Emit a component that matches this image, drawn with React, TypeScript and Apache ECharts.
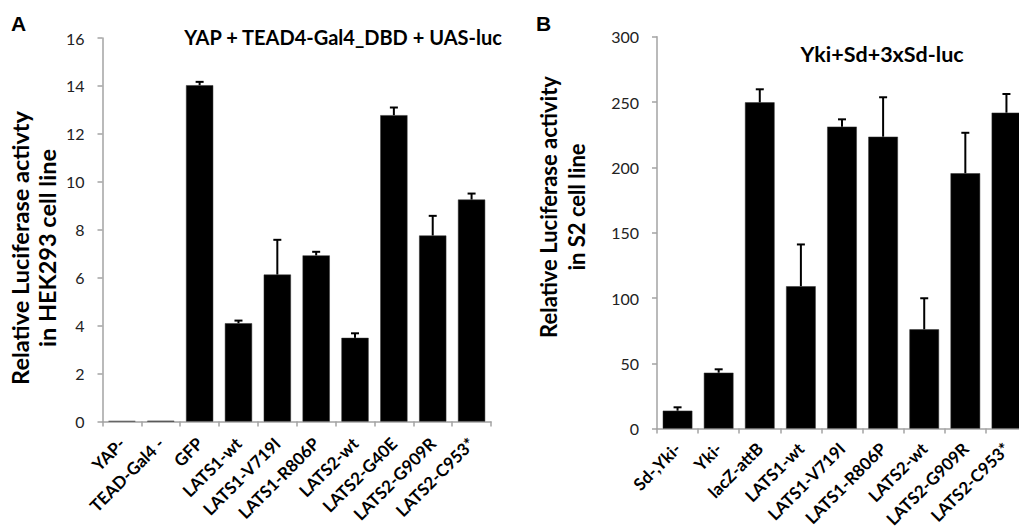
import React, { useEffect, useRef } from "react";
import * as echarts from "echarts";

const catsA = ["YAP-", "TEAD-Gal4 -", "GFP", "LATS1-wt", "LATS1-V719I", "LATS1-R806P", "LATS2-wt", "LATS2-G40E", "LATS2-G909R", "LATS2-C953*"];
const valsA = [0.02, 0.03, 14.03, 4.1, 6.13, 6.93, 3.49, 12.78, 7.76, 9.26];
const errA = [0, 0, 0.14, 0.11, 1.45, 0.15, 0.19, 0.32, 0.82, 0.25];
const ticksA = { min: 0, max: 16, interval: 2 };

const catsB = ["Sd-,Yki-", "Yki-", "lacZ-attB", "LATS1-wt", "LATS1-V719I", "LATS1-R806P", "LATS2-wt", "LATS2-G909R", "LATS2-C953*"];
const valsB = [13.7, 42.8, 249.8, 109, 231.2, 223.5, 76, 195.5, 241.9];
const errB = [2.6, 2.6, 10, 32, 5.6, 30.2, 23.8, 31, 14.3];
const ticksB = { min: 0, max: 300, interval: 50 };

const titleA = "YAP + TEAD4-Gal4_DBD + UAS-luc";
const titleB = "Yki+Sd+3xSd-luc";
const yNameA = "Relative Luciferase activty\nin HEK293 cell line";
const yNameB = "Relative Luciferase activity\nin S2 cell line";

const FONT = "Lato";
const AXIS_GRAY = "#a3a3a3";

function errData(vals: number[], errs: number[]) {
  return vals
    .map((v, i) => [i, v, v + errs[i], errs[i]])
    .filter((d) => d[3] > 0);
}

function errorSeries(idx: number, data: number[][]) {
  return {
    type: "custom",
    xAxisIndex: idx,
    yAxisIndex: idx,
    data,
    encode: { x: 0, y: [1, 2] },
    z: 3,
    renderItem: (params: any, api: any) => {
      const i = api.value(0);
      const base = api.coord([i, api.value(1)]);
      const top = api.coord([i, api.value(2)]);
      const half = 4;
      const st = { stroke: "#000", lineWidth: 2 };
      return {
        type: "group",
        children: [
          { type: "line", shape: { x1: base[0], y1: base[1], x2: top[0], y2: top[1] }, style: st },
          { type: "line", shape: { x1: top[0] - half, y1: top[1], x2: top[0] + half, y2: top[1] }, style: st },
        ],
      };
    },
  };
}

function xAxis(idx: number, cats: string[], fontSize: number, margin: number) {
  return {
    type: "category",
    gridIndex: idx,
    data: cats,
    axisLine: { lineStyle: { color: AXIS_GRAY, width: 1.5 } },
    axisTick: { show: true, length: 5, lineStyle: { color: AXIS_GRAY, width: 1.5 } },
    axisLabel: {
      interval: 0,
      rotate: 45,
      margin,
      color: "#000",
      fontFamily: FONT,
      fontWeight: "bold",
      fontSize,
    },
  };
}

function yAxis(idx: number, t: { min: number; max: number; interval: number }) {
  return {
    type: "value",
    gridIndex: idx,
    min: t.min,
    max: t.max,
    interval: t.interval,
    splitLine: { show: false },
    axisLine: { show: true, lineStyle: { color: AXIS_GRAY, width: 1.5 } },
    axisTick: { show: true, length: 5, lineStyle: { color: AXIS_GRAY, width: 1.5 } },
    axisLabel: { margin: 18, color: "#222", fontFamily: FONT, fontSize: 16 },
  };
}

export default function App() {
  const ref = useRef<HTMLDivElement>(null);
  useEffect(() => {
    if (!ref.current) return;
    const chart = echarts.init(ref.current, null, { renderer: "svg" });
    chart.setOption({
      animation: false,
      backgroundColor: "#fff",
      grid: [
        { left: 102.5, top: 38, width: 388.5, height: 383.5, outerBoundsMode: "none", containLabel: false },
        { left: 657, top: 36.8, width: 370, height: 391.8, outerBoundsMode: "none", containLabel: false },
      ],
      xAxis: [xAxis(0, catsA, 17, 19), xAxis(1, catsB, 17, 17)],
      yAxis: [yAxis(0, ticksA), yAxis(1, ticksB)],
      series: [
        {
          type: "bar",
          xAxisIndex: 0,
          yAxisIndex: 0,
          data: valsA,
          barWidth: "70%",
          itemStyle: { color: "#000", borderColor: "#333", borderWidth: 0.5 },
        },
        errorSeries(0, errData(valsA, errA)),
        {
          type: "bar",
          xAxisIndex: 1,
          yAxisIndex: 1,
          data: valsB,
          barWidth: "72%",
          itemStyle: { color: "#000", borderColor: "#333", borderWidth: 0.5 },
        },
        errorSeries(1, errData(valsB, errB)),
      ],
      graphic: [
        { type: "text", left: 11, top: 13, style: { text: "A", font: "bold 21px 'Liberation Sans'", fill: "#000" } },
        { type: "text", left: 536, top: 13, style: { text: "B", font: "bold 21px 'Liberation Sans'", fill: "#000" } },
        { type: "text", x: 343, y: 37, style: { text: titleA, font: `bold 20px ${FONT}`, fill: "#000", align: "center", verticalAlign: "middle" } },
        { type: "text", x: 882, y: 54, style: { text: titleB, font: `bold 21.5px ${FONT}`, fill: "#000", align: "center", verticalAlign: "middle" } },
        { type: "text", x: 33, y: 248, rotation: Math.PI / 2, style: { text: yNameA, font: `bold 23.5px ${FONT}`, fill: "#000", align: "center", verticalAlign: "middle", lineHeight: 27 } },
        { type: "text", x: 562, y: 207, rotation: Math.PI / 2, style: { text: yNameB, font: `bold 22px ${FONT}`, fill: "#000", align: "center", verticalAlign: "middle", lineHeight: 28 } },
      ],
    });
    return () => chart.dispose();
  }, []);
  return <div ref={ref} style={{ position: "absolute", left: 0, top: 0, width: 1019, height: 530 }} />;
}
